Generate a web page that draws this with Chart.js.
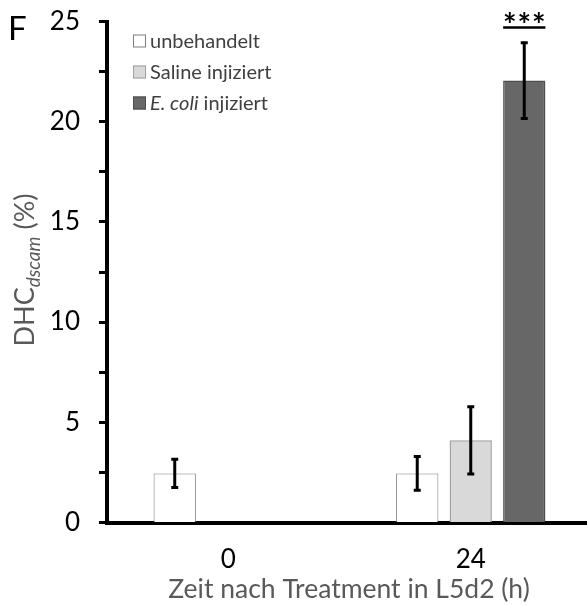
<!DOCTYPE html>
<html>
<head>
<meta charset="utf-8">
<script src="https://cdn.jsdelivr.net/npm/chart.js@4/dist/chart.umd.min.js"></script>
<style>
  html, body { margin: 0; padding: 0; background: #fff; overflow: hidden; }
  #wrap { width: 587px; height: 605px; overflow: hidden; position: relative; }
  canvas { display: block; }
</style>
</head>
<body>
<div id="wrap"><canvas id="c" width="592" height="605"></canvas></div>
<script>
// Time points (hours after treatment in L5d2)
const categories = ['0', '24'];

// DHC_dscam (%) means and standard errors per group
const untreated    = [2.45, 2.45];
const untreatedErr = [0.70, 0.84];
const saline       = [null, 4.10];
const salineErr    = [null, 1.68];
const ecoli        = [null, 22.05];
const ecoliErr     = [null, 1.89];

// Labelled y ticks (minor ticks every 2.5 carry no label)
const yTickLabels = [0, 5, 10, 15, 20, 25];

// Significance marks: [category index, dataset index, text]
const significance = [[1, 2, '***']];

const FONT = 'Lato, "Open Sans", sans-serif';

const errorBars = {
  id: 'errorBars',
  afterDatasetsDraw(chart) {
    const { ctx, scales: { y } } = chart;
    ctx.save();
    ctx.strokeStyle = '#000';
    ctx.lineWidth = 3;
    ctx.lineCap = 'butt';
    chart.data.datasets.forEach((ds, di) => {
      const meta = chart.getDatasetMeta(di);
      ds.errors.forEach((err, i) => {
        const v = ds.data[i];
        if (v == null || err == null) return;
        const x = meta.data[i].x;
        const yTop = y.getPixelForValue(v + err);
        const yBot = y.getPixelForValue(v - err);
        ctx.beginPath();
        ctx.moveTo(x, yTop); ctx.lineTo(x, yBot);
        ctx.moveTo(x - 3.5, yTop); ctx.lineTo(x + 3.5, yTop);
        ctx.moveTo(x - 3.5, yBot); ctx.lineTo(x + 3.5, yBot);
        ctx.stroke();
      });
    });
    ctx.restore();
  }
};

const annotations = {
  id: 'annotations',
  afterDraw(chart) {
    const { ctx, chartArea } = chart;
    ctx.save();

    // significance stars with a bar under them
    significance.forEach(([ci, di, text]) => {
      const bar = chart.getDatasetMeta(di).data[ci];
      const half = bar.width / 2;
      const lineY = chartArea.top + 6;
      ctx.strokeStyle = '#000';
      ctx.lineWidth = 2.5;
      ctx.beginPath();
      ctx.moveTo(bar.x - half, lineY);
      ctx.lineTo(bar.x + half, lineY);
      ctx.stroke();
      ctx.fillStyle = '#000';
      ctx.font = 'bold 32px ' + FONT;
      ctx.textAlign = 'center';
      ctx.textBaseline = 'alphabetic';
      const chars = text.split('');
      const step = 14.5;
      chars.forEach((ch, k) => {
        const m = ctx.measureText(ch);
        const mid = (m.actualBoundingBoxAscent - m.actualBoundingBoxDescent) / 2;
        ctx.fillText(ch, bar.x + (k - (chars.length - 1) / 2) * step, 17 + mid);
      });
    });

    // panel letter
    ctx.fillStyle = '#000';
    ctx.font = '33px ' + FONT;
    ctx.textAlign = 'left';
    ctx.textBaseline = 'alphabetic';
    ctx.fillText('F', 8, 40);

    // legend
    const items = chart.data.datasets;
    const rowY = [41, 72, 103];
    items.forEach((ds, i) => {
      const cy = rowY[i];
      ctx.fillStyle = ds.backgroundColor;
      ctx.fillRect(133, cy - 6.5, 13, 13);
      ctx.strokeStyle = ds.borderColor;
      ctx.lineWidth = 1;
      ctx.strokeRect(133.5, cy - 6, 12, 12);
      ctx.fillStyle = '#404040';
      ctx.textBaseline = 'middle';
      let x = 150;
      ds.legendParts.forEach(([txt, italic]) => {
        ctx.font = (italic ? 'italic ' : '') + '20px ' + FONT;
        ctx.fillText(txt, x, cy + 1);
        x += ctx.measureText(txt).width;
      });
    });

    // x axis title
    ctx.fillStyle = '#595959';
    ctx.font = '26.5px ' + FONT;
    ctx.textAlign = 'center';
    ctx.textBaseline = 'alphabetic';
    ctx.fillText('Zeit nach Treatment in L5d2 (h)', 349, 598);

    // y axis title: DHC with italic subscript "dscam", then (%)
    const parts = [
      ['DHC', '27px ' + FONT, 0],
      ['dscam', 'italic 19px ' + FONT, 6],
      [' (%)', '27px ' + FONT, 0]
    ];
    let total = 0;
    parts.forEach(p => { ctx.font = p[1]; total += ctx.measureText(p[0]).width; });
    ctx.translate(34, 270);
    ctx.rotate(-Math.PI / 2);
    ctx.textAlign = 'left';
    let px = -total / 2;
    parts.forEach(([txt, font, dy]) => {
      ctx.font = font;
      ctx.fillText(txt, px, dy);
      px += ctx.measureText(txt).width;
    });
    ctx.restore();
  }
};

new Chart(document.getElementById('c'), {
  type: 'bar',
  data: {
    labels: categories,
    datasets: [
      { label: 'unbehandelt', data: untreated, errors: untreatedErr,
        legendParts: [['unbehandelt', false]],
        backgroundColor: '#ffffff', borderColor: '#7f7f7f', borderWidth: 1 },
      { label: 'Saline injiziert', data: saline, errors: salineErr,
        legendParts: [['Saline injiziert', false]],
        backgroundColor: '#d9d9d9', borderColor: '#a0a0a0', borderWidth: 1.5 },
      { label: 'E. coli injiziert', data: ecoli, errors: ecoliErr,
        legendParts: [['E. coli', true], [' injiziert', false]],
        backgroundColor: '#676767', borderColor: '#4d4d4d', borderWidth: 1.5 }
    ]
  },
  options: {
    responsive: false,
    animation: false,
    devicePixelRatio: 1,
    layout: { padding: { left: 0, right: 0, top: 21.5, bottom: 0 } },
    categoryPercentage: 0.662,
    barPercentage: 0.79,
    plugins: { legend: { display: false }, tooltip: { enabled: false } },
    scales: {
      x: {
        z: 1,
        grid: { display: true, drawOnChartArea: false, drawTicks: false },
        border: { display: true, color: '#000', width: 4 },
        ticks: { color: '#000', font: { family: FONT, size: 26 }, padding: 22 },
        afterFit(s) { s.height = 82.5; s.paddingLeft = 0; s.paddingRight = 0; }
      },
      y: {
        z: 1,
        min: 0, max: 25,
        grid: { display: true, drawOnChartArea: false, drawTicks: true,
                tickLength: 8, tickWidth: 3, tickColor: '#000' },
        border: { display: true, color: '#000', width: 4 },
        ticks: {
          stepSize: 2.5, color: '#000', padding: 19,
          font: { family: FONT, size: 26 },
          callback: v => (yTickLabels.includes(v) ? String(v) : '')
        },
        afterFit(s) { s.width = 107; s.paddingTop = 0; s.paddingBottom = 0; }
      }
    }
  },
  plugins: [errorBars, annotations]
});
</script>
</body>
</html>
